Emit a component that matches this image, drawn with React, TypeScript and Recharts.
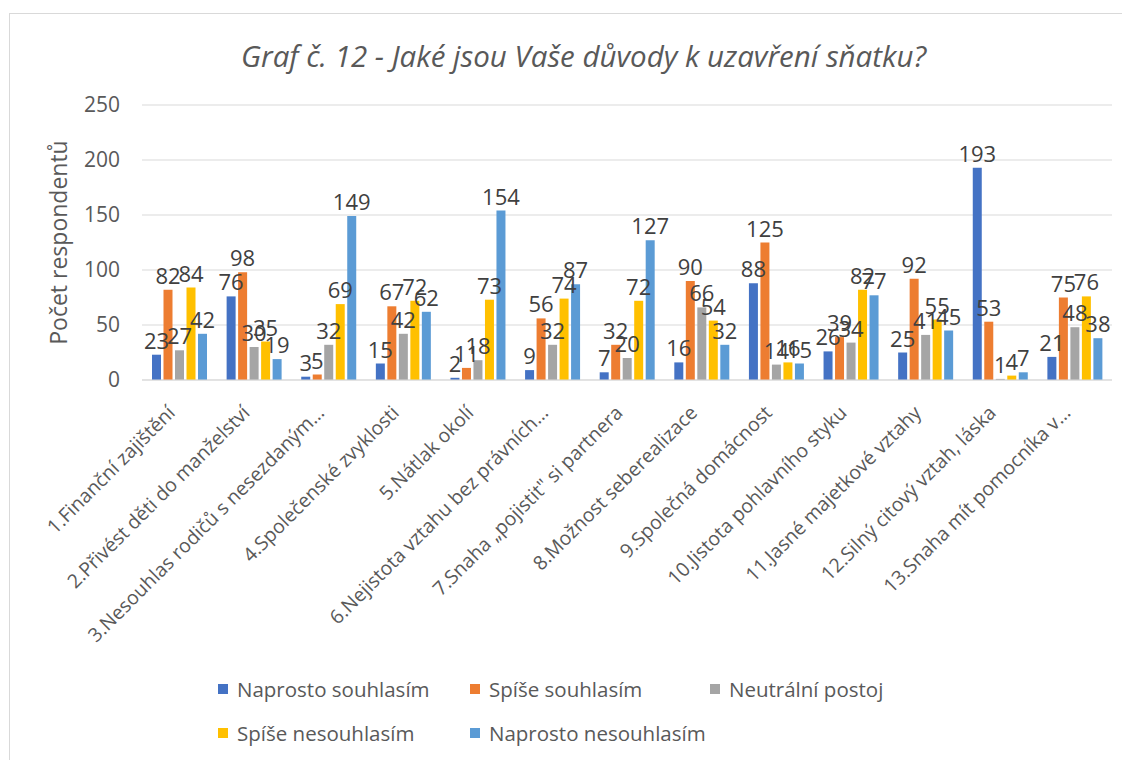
import { BarChart, Bar, XAxis, YAxis, CartesianGrid, LabelList, Legend } from 'recharts';

const categories = [
  '1.Finanční zajištění',
  '2.Přivést děti do manželství',
  '3.Nesouhlas rodičů s nesezdaným…',
  '4.Společenské zvyklosti',
  '5.Nátlak okolí',
  '6.Nejistota vztahu bez právních…',
  '7.Snaha „pojistit" si partnera',
  '8.Možnost seberealizace',
  '9.Společná domácnost',
  '10.Jistota pohlavního styku',
  '11.Jasné majetkové vztahy',
  '12.Silný citový vztah, láska',
  '13.Snaha mít pomocníka v…',
];

const naprostoSouhlasim = [23, 76, 3, 15, 2, 9, 7, 16, 88, 26, 25, 193, 21];
const spiseSouhlasim = [82, 98, 5, 67, 11, 56, 32, 90, 125, 39, 92, 53, 75];
const neutralniPostoj = [27, 30, 32, 42, 18, 32, 20, 66, 14, 34, 41, 1, 48];
const spiseNesouhlasim = [84, 35, 69, 72, 73, 74, 72, 54, 16, 82, 55, 4, 76];
const naprostoNesouhlasim = [42, 19, 149, 62, 154, 87, 127, 32, 15, 77, 45, 7, 38];

const yTicks = [0, 50, 100, 150, 200, 250];

const series = [
  { key: 'a', name: 'Naprosto souhlasím', color: '#4472C4' },
  { key: 'b', name: 'Spíše souhlasím', color: '#ED7D31' },
  { key: 'c', name: 'Neutrální postoj', color: '#A5A5A5' },
  { key: 'd', name: 'Spíše nesouhlasím', color: '#FFC000' },
  { key: 'e', name: 'Naprosto nesouhlasím', color: '#5B9BD5' },
];

const data = categories.map((name, i) => ({
  name,
  a: naprostoSouhlasim[i],
  b: spiseSouhlasim[i],
  c: neutralniPostoj[i],
  d: spiseNesouhlasim[i],
  e: naprostoNesouhlasim[i],
}));

const FONT = '"Open Sans", sans-serif';

function CategoryTick({ x, y, payload }: any) {
  const tx = x - 3;
  const ty = y + 26;
  return (
    <text
      x={tx}
      y={ty}
      transform={`rotate(-45 ${tx} ${ty})`}
      textAnchor="end"
      fontSize={19.5}
      fill="#595959"
      fontFamily={FONT}
    >
      {payload.value}
    </text>
  );
}

// two-row legend like the Excel original
function ChartLegend() {
  const cols = [208, 460, 700];
  return (
    <div style={{ position: 'relative', height: 90, fontFamily: FONT, fontSize: 20.5, color: '#595959' }}>
      {series.map((s, i) => (
        <div
          key={s.key}
          style={{
            position: 'absolute',
            left: cols[i % 3],
            top: i < 3 ? 0 : 44,
            display: 'flex',
            alignItems: 'center',
            whiteSpace: 'nowrap',
          }}
        >
          <span style={{ width: 10, height: 10, background: s.color, marginRight: 9, display: 'inline-block' }} />
          {s.name}
        </div>
      ))}
    </div>
  );
}

export default function App() {
  return (
    <div
      style={{
        position: 'relative',
        marginTop: 5,
        marginLeft: 1,
        width: 1121,
        height: 760,
        borderLeft: '1px solid #d9d9d9',
        borderTop: '1px solid #d9d9d9',
        background: '#fff',
      }}
    >
      <div
        style={{
          position: 'absolute',
          top: 21,
          left: 18,
          width: 1111,
          textAlign: 'center',
          fontFamily: FONT,
          fontStyle: 'italic',
          fontSize: 29.5,
          color: '#595959',
        }}
      >
        Graf č. 12 - Jaké jsou Vaše důvody k uzavření sňatku?
      </div>
      <BarChart
        width={1111}
        height={760}
        data={data}
        margin={{ top: 91, right: 9, left: 0, bottom: 0 }}
        barSize={9}
        barGap={2.5}
      >
        <CartesianGrid vertical={false} stroke="#d9d9d9" />
        <XAxis
          dataKey="name"
          interval={0}
          height={304}
          tickLine={false}
          axisLine={{ stroke: '#d9d9d9' }}
          tick={<CategoryTick />}
        />
        <YAxis
          width={132}
          domain={[0, 250]}
          ticks={yTicks}
          tickLine={false}
          axisLine={false}
          tickMargin={16}
          tick={{ fontSize: 21, fill: '#595959', fontFamily: FONT }}
          label={{
            value: 'Počet respondentů',
            angle: -90,
            position: 'insideLeft',
            dx: 44,
            style: { textAnchor: 'middle', fontSize: 23, fill: '#595959', fontFamily: FONT },
          }}
        />
        <Legend
          verticalAlign="bottom"
          content={<ChartLegend />}
          wrapperStyle={{ bottom: undefined, top: 661, left: 0, width: 1111 }}
        />
        {series.map((s) => (
          <Bar key={s.key} dataKey={s.key} name={s.name} fill={s.color} isAnimationActive={false}>
            <LabelList
              dataKey={s.key}
              position="top"
              offset={6}
              fontSize={22}
              fill="#404040"
              fontFamily={FONT}
            />
          </Bar>
        ))}
      </BarChart>
    </div>
  );
}
